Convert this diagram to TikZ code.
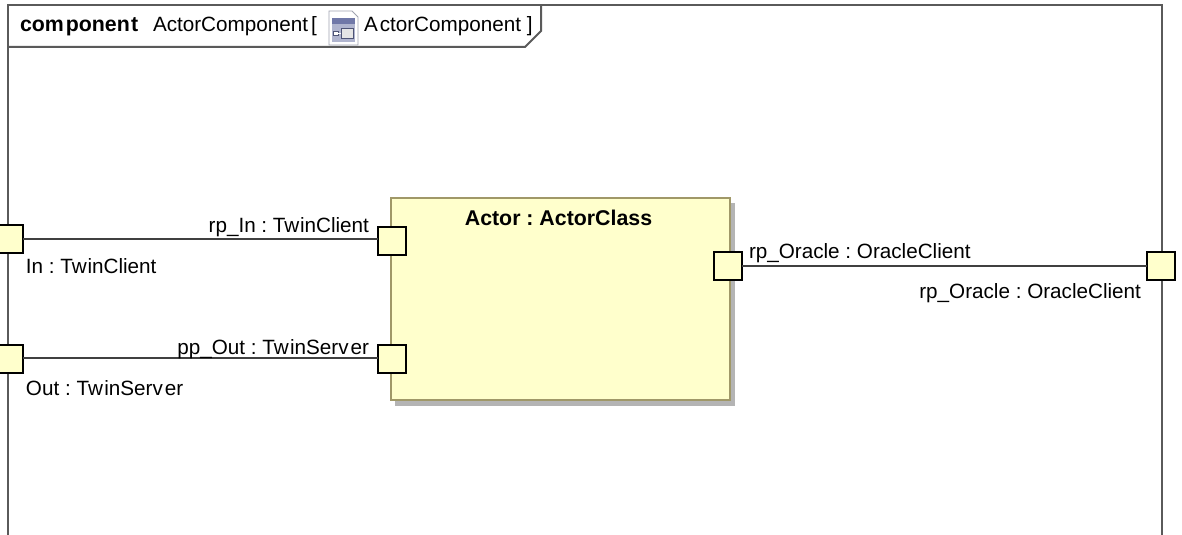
\documentclass[tikz,border=0pt]{standalone}
\usepackage{fontspec}
\setmainfont{Liberation Sans}
\frenchspacing
\definecolor{portfill}{HTML}{FFFFCC}
\definecolor{blockedge}{HTML}{A09868}
\definecolor{shadowgray}{HTML}{B4B4B4}
\definecolor{frameedge}{HTML}{5A5A5A}
\definecolor{lineedge}{HTML}{404040}
\definecolor{iconblue}{HTML}{7078A8}
\definecolor{iconedge}{HTML}{A0A4B0}
\newcommand{\umlsize}{\fontsize{15.5pt}{18pt}\selectfont}
\newcommand{\umlboldsize}{\fontsize{16pt}{18pt}\selectfont\bfseries}
\tikzset{
  umltext/.style={inner sep=0pt,outer sep=0pt,font=\umlsize,text=black},
  umlbold/.style={umltext,font=\umlboldsize},
  portbox/.style={draw=black,fill=portfill,line width=1.5pt,minimum width=21pt,minimum height=21pt,inner sep=0pt,outer sep=0pt},
  wire/.style={draw=lineedge,line width=1.5pt},
  framepen/.style={draw=frameedge,line width=1.5pt},
}
\begin{document}
\begin{tikzpicture}[x=0.75pt,y=-0.75pt]
\useasboundingbox (0,0) rectangle (1182,535);
\fill[white] (0,0) rectangle (1182,535);
% frame
\draw[framepen] (8,535) -- (8,5) -- (1162,5) -- (1162,535);
\draw[framepen] (8,47) -- (525,47) -- (541,31) -- (541,5);
% header
\node[umlbold,anchor=base west] (kw) at (20,31.5) {com\kern1.5pt ponen\kern1pt t};
\node[umltext,anchor=base west] (hname) at (153,31.5) {ActorComponent\kern-2pt\ [};
\node[umltext,anchor=base west] (hname2) at (364,31.5) {A\kern1.5pt ctorComponent ]};
% icon
\node[inner sep=0pt,minimum width=22pt,minimum height=25pt] (icon) at (343,28) {};
\fill[white,draw=iconedge,line width=0.7pt] (329,11) -- (352,11) -- (358,17) -- (358,45) -- (329,45) -- cycle;
\fill[iconblue!55!white] (332,18) rectangle (355,42);
\fill[iconblue] (332,18) rectangle (355,24);
\fill[black!10,draw=iconblue!70!black,line width=0.5pt] (341,28) rectangle (353,38);
\fill[white,draw=iconblue!70!black,line width=0.5pt] (333,31) rectangle (338,35);
\draw[white,line width=0.6pt] (338,33) -- (341,33);
% block
\fill[shadowgray] (395,203) rectangle (735,406);
\node[draw=blockedge,fill=portfill,line width=1.5pt,minimum width=254.25pt,minimum height=151.5pt,inner sep=0pt,outer sep=0pt] (actor) at (560,299) {};
\node[umlbold,anchor=base] (actorlabel) at (558.5,225) {Actor : ActorClass};
% ports
\node[portbox] (pIn) at (9,239) {};
\node[portbox] (pOut) at (9,359) {};
\node[portbox] (rpIn) at (392,241) {};
\node[portbox] (ppOut) at (392,359) {};
\node[portbox] (rpOr) at (728,266) {};
\node[portbox] (rpOrR) at (1161,266) {};
% connectors
\draw[wire] (pIn.east) -- (pIn.east -| rpIn.west);
\draw[wire] ([yshift=0.75pt]pOut.east) -- ([yshift=0.75pt]ppOut.west);
\draw[wire] (rpOr.east) -- (rpOrR.west);
% labels
\node[umltext,anchor=base east] (lrpIn) at (369,232.5) {rp\_In : Tw\kern0.5pt inClient};
\node[umltext,anchor=base west] (lIn) at (26,273.5) {In : Tw\kern0.5pt inClient};
\node[umltext,anchor=base east] (lppOut) at (369,354) {pp\_Out : Tw\kern1pt inServ\kern1.5pt er};
\node[umltext,anchor=base west] (lOut) at (26,395) {Out : Tw\kern1pt inServ\kern1.5pt er};
\node[umltext,anchor=base west] (lOr) at (749,258) {rp\_Oracle : OracleClient};
\node[umltext,anchor=base east] (lOrR) at (1141,298.5) {rp\_Oracle : OracleClient};
\end{tikzpicture}
\end{document}
